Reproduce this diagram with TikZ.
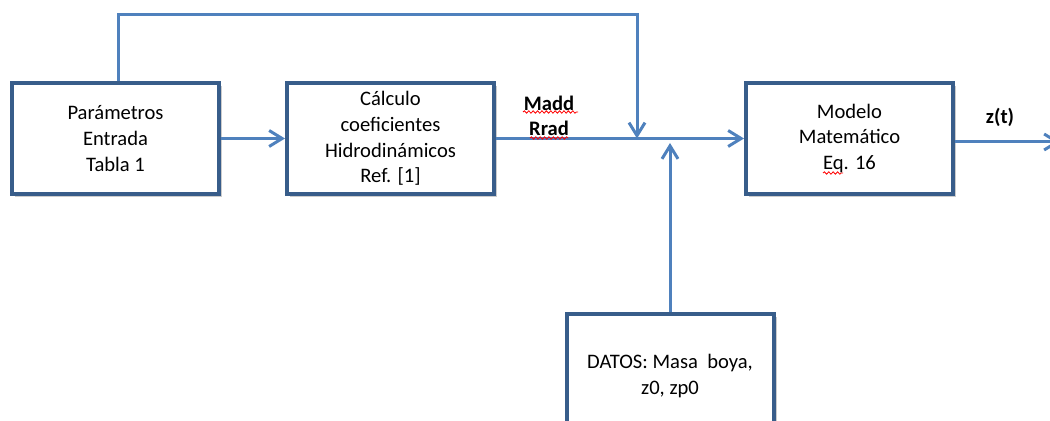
\documentclass[tikz,border=0pt]{standalone}
\usepackage{fontspec}
\setmainfont{Carlito}
\usetikzlibrary{arrows.meta,decorations.pathmorphing,shadows}

\definecolor{linea}{HTML}{4F81BD}
\definecolor{borde}{HTML}{385D8A}

\tikzset{
  bloque/.style={draw=borde, line width=2pt, fill=white, inner sep=0pt,
    minimum width=103.5pt, minimum height=55.5pt, align=center,
    font=\fontsize{10.3}{12.8}\selectfont,
    drop shadow={shadow xshift=1.5pt, shadow yshift=-1.5pt, fill=black, opacity=0.2}},
  flecha/.style={draw=linea, line width=1.5pt, -{Straight Barb[length=6.5pt,width=8pt]}},
  etiqueta/.style={font=\fontsize{10.3}{12.8}\selectfont\bfseries, inner sep=1pt},
  ondas/.style={red, line width=0.4pt, decorate,
    decoration={snake, amplitude=0.6pt, segment length=2.2pt}}
}

\begin{document}
\begin{tikzpicture}[x=0.5pt, y=-0.5pt]
		\useasboundingbox (0,0) rectangle (1050,421);
		
		% Bloques
		\node[bloque] (par) at (115.5,138.5) {Parámetros\\Entrada\\Tabla 1};
		\node[bloque] (calc) at (390.5,138.5) {Cálculo\\coeficientes\\Hidrodinámicos\\Ref. [1]};
		\node[bloque] (modelo) at (849.5,138.5) {Modelo\\Matemático\\Eq. 16};
		\node[bloque, minimum height=62pt] (datos) at (670,376) {DATOS: Masa\ \ boya,\\z0, zp0};
		
		% Puntos de union
		\coordinate (arriba) at (118,15);
		\coordinate (union) at (637,138.5);
		\coordinate (entdatos) at (670,143);
		\coordinate (salida) at (1060,142);
		
		% Conexiones
		\draw[flecha] (par) -- (calc);
		\draw[flecha] (calc) -- (modelo);
		\draw[flecha] (par.north -| arriba) -- (arriba) -| (union);
		\draw[flecha] (datos.north) -- (entdatos);
		\draw[flecha] (modelo.east |- salida) -- (salida);
		
		% Etiquetas
		\node[etiqueta] (madd) at (549,103) {Madd};
		\node[etiqueta] (rrad) at (549,128) {Rrad};
		\node[etiqueta] (zt) at (1000,117) {z(t)};
		
		% Subrayado del corrector
		\draw[ondas] (523,112) -- (578,112);
		\draw[ondas] (530,138) -- (568,138);
		\draw[ondas] (823,173) -- (843,173);
	\end{tikzpicture}
\end{document}
